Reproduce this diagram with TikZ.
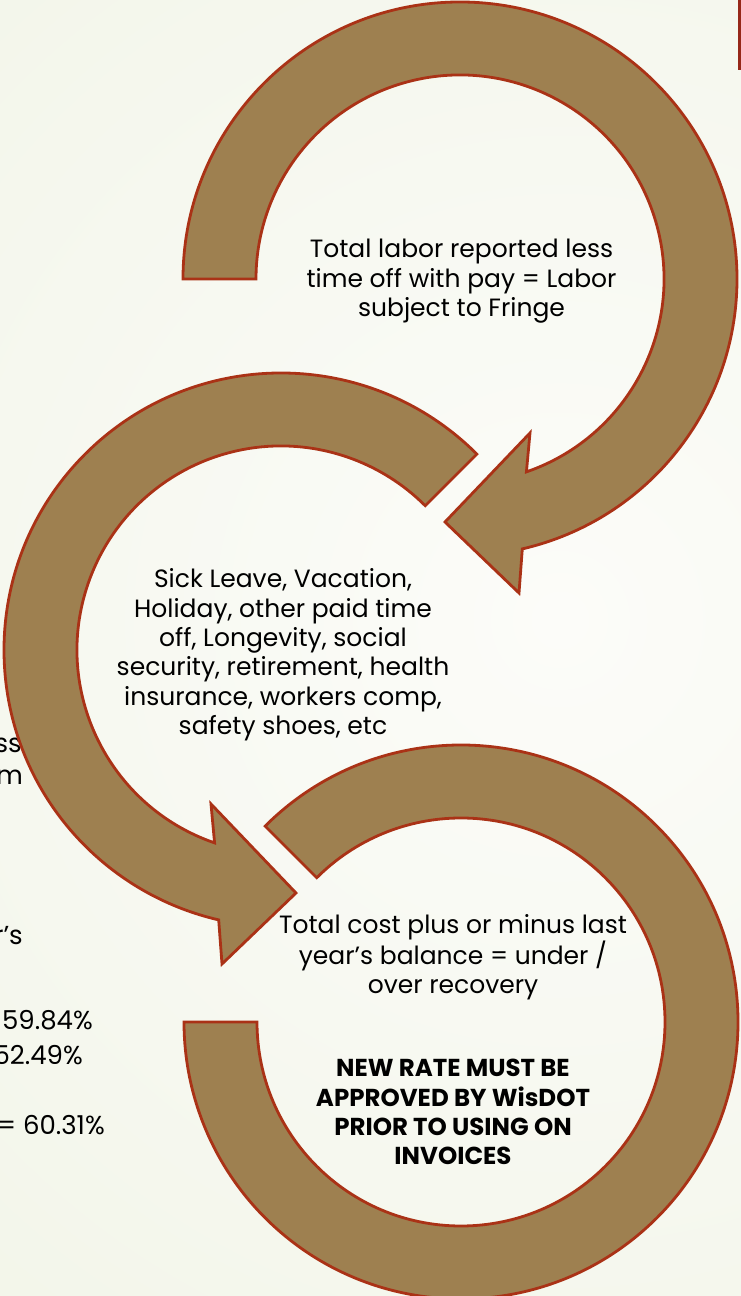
\documentclass[tikz,border=0pt]{standalone}
\usepackage{fontspec}
\setmainfont{Poppins}

\definecolor{ringfill}{RGB}{158,128,80}
\definecolor{ringline}{RGB}{170,50,22}
\definecolor{bgedge}{RGB}{233,239,218}
\definecolor{bgcentre}{RGB}{252,252,249}
\definecolor{edgebar}{RGB}{150,40,25}

\begin{document}
\begin{tikzpicture}[x=1pt,y=1pt,
  ring/.style={fill=ringfill, draw=ringline, line width=2.8pt, line join=miter, miter limit=6},
  steptext/.style={align=center, inner sep=0pt, anchor=base, text=black,
    font=\fontsize{25}{29.3}\selectfont},
  sidetext/.style={inner sep=0pt, anchor=base east, text=black,
    font=\fontsize{26}{30}\selectfont}]
\useasboundingbox (0,0) rectangle (741,1296);

% soft radial background
\fill[bgedge] (0,0) rectangle (741,1296);
\begin{scope}
  \clip (0,0) rectangle (741,1296);
  \shade[inner color=bgcentre, outer color=bgedge] (560,676) circle (1800);
\end{scope}

% thin bar at the top right edge
\fill[edgebar] (738,1226) rectangle (741,1296);

% side notes partly hidden behind the arrows
\node[sidetext] (noteA) at (22,543) {ess};
\node[sidetext] (noteB) at (23,511) {m};
\node[sidetext] (noteC) at (23,351) {r’s};
\node[sidetext] (noteD) at (93,266) {59.84\%};
\node[sidetext] (noteE) at (83,231) {52.49\%};
\node[sidetext] (noteF) at (105,161) {= 60.31\%};

% first circular arrow: labour
\begin{scope}[shift={(460,1017)}]
  \draw[ring] (180:277) arc[start angle=180, end angle=-77, radius=277]
    -- (59,-314) -- (-15,-243) -- (70,-154) -- (-71:204)
    arc[start angle=-71, end angle=180, radius=204] -- cycle;
\end{scope}

% second circular arrow: fringe items
\begin{scope}[shift={(281,646)}]
  \draw[ring] (45:277) arc[start angle=45, end angle=257, radius=277]
    -- (-59,-314) -- (15,-243) -- (-70,-154) -- (251:204)
    arc[start angle=251, end angle=45, radius=204] -- cycle;
\end{scope}

% third circular band: recovery
\begin{scope}[shift={(461,274)}]
  \draw[ring] (135:277) arc[start angle=135, end angle=-180, radius=277]
    -- (180:204) arc[start angle=-180, end angle=135, radius=204] -- cycle;
\end{scope}

% step texts (each anchored on the baseline of its last line)
\node[steptext] (labour) at (461.5,979.4)
  {Total labor reported less\\time off with pay = Labor\\subject to Fringe};
\node[steptext] (fringe) at (283,561.5)
  {Sick Leave, Vacation,\\Holiday, other paid time\\off, Longevity, social\\security, retirement, health\\insurance, workers comp,\\safety shoes, etc};
\node[steptext] (recovery) at (453,302.4)
  {Total cost plus or minus last\\year’s balance = under /\\over recovery};
\node[steptext, font=\fontsize{24.5}{29.3}\selectfont\bfseries] (approval) at (453,131.1)
  {NEW RATE MUST BE\\APPROVED BY WisDOT\\PRIOR TO USING ON\\INVOICES};
\end{tikzpicture}
\end{document}
